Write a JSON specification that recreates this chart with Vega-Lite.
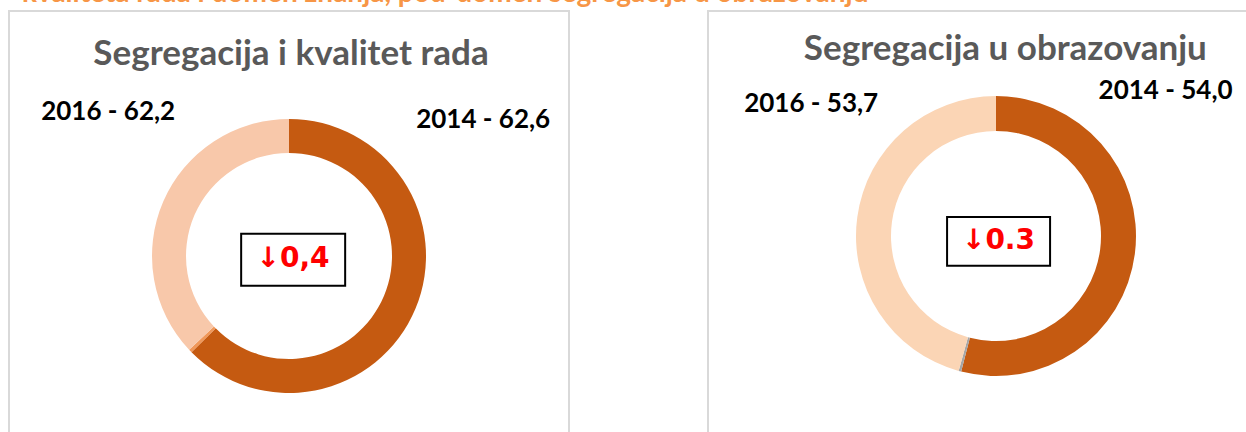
{
  "$schema": "https://vega.github.io/schema/vega-lite/v6.json",
  "padding": {"left": 8, "top": -20, "right": 0, "bottom": 0},
  "background": "white",
  "title": {
    "text": "kvaliteta rada i domen znanja, pod-domen segregacija u obrazovanju",
    "anchor": "start",
    "color": "#F79646",
    "font": "Lato",
    "fontSize": 28,
    "fontWeight": "bold",
    "dx": 14,
    "offset": 2
  },
  "datasets": {
    "arcs": [
      {"panel": "L", "part": "2014", "value": 62.6, "order": 1},
      {"panel": "L", "part": "razlika", "value": 0.4, "order": 2},
      {"panel": "L", "part": "2016", "value": 37.0, "order": 3},
      {"panel": "R", "part": "2014", "value": 54.0, "order": 1},
      {"panel": "R", "part": "razlika", "value": 0.3, "order": 2},
      {"panel": "R", "part": "2016", "value": 45.7, "order": 3}
    ],
    "labels": [
      {"id": "L_title", "text": "Segregacija i kvalitet rada"},
      {"id": "L_2014", "text": "2014 - 62,6"},
      {"id": "L_2016", "text": "2016 - 62,2"},
      {"id": "L_change", "text": "↓0,4"},
      {"id": "R_title", "text": "Segregacija u obrazovanju"},
      {"id": "R_2014", "text": "2014 - 54,0"},
      {"id": "R_2016", "text": "2016 - 53,7"},
      {"id": "R_change", "text": "↓0.3"}
    ]
  },
  "spacing": 137,
  "hconcat": [
    {
      "width": 560,
      "height": 490,
      "view": {"stroke": "#D9D9D9", "strokeWidth": 2, "fill": "white"},
      "layer": [
        {
          "data": {"name": "arcs"},
          "transform": [{"filter": "datum.panel === 'L'"}],
          "mark": {"type": "arc", "outerRadius": 137, "innerRadius": 103},
          "encoding": {
            "theta": {"field": "value", "type": "quantitative", "stack": true},
            "order": {"field": "order"},
            "color": {"field": "part", "type": "nominal", "legend": null,
              "scale": {"domain": ["2014", "razlika", "2016"], "range": ["#C55A11", "#F0985A", "#F8C8AA"]}}
          }
        },
        {
          "data": {"name": "labels"},
          "transform": [{"filter": "datum.id === 'L_title'"}],
          "mark": {"type": "text", "theta": 0.01, "radius": 202, "font": "Lato", "fontSize": 35, "fontWeight": "bold", "color": "#595959"},
          "encoding": {"text": {"field": "text"}}
        },
        {
          "data": {"name": "labels"},
          "transform": [{"filter": "datum.id === 'L_2014'"}],
          "mark": {"type": "text", "theta": 0.96, "radius": 237, "font": "Lato", "fontSize": 26, "fontWeight": "bold", "color": "#000000"},
          "encoding": {"text": {"field": "text"}}
        },
        {
          "data": {"name": "labels"},
          "transform": [{"filter": "datum.id === 'L_2016'"}],
          "mark": {"type": "text", "theta": 5.384, "radius": 231, "font": "Lato", "fontSize": 26, "fontWeight": "bold", "color": "#000000"},
          "encoding": {"text": {"field": "text"}}
        },
        {
          "data": {"name": "labels"},
          "transform": [{"filter": "datum.id === 'L_change'"}],
          "mark": {"type": "point", "shape": "M-0.92,-0.43H1.08V0.57H-0.92Z", "size": 10816, "filled": false, "stroke": "#000000", "strokeWidth": 2, "opacity": 1},
          "encoding": {}
        },
        {
          "data": {"name": "labels"},
          "transform": [{"filter": "datum.id === 'L_change'"}],
          "mark": {"type": "text", "theta": 2.29, "radius": 5.3, "font": "DejaVu Sans", "fontSize": 28, "fontWeight": "bold", "color": "#FF0000"},
          "encoding": {"text": {"field": "text"}}
        }
      ]
    },
    {
      "width": 576,
      "height": 450,
      "view": {"stroke": "#D9D9D9", "strokeWidth": 2, "fill": "white"},
      "layer": [
        {
          "data": {"name": "arcs"},
          "transform": [{"filter": "datum.panel === 'R'"}],
          "mark": {"type": "arc", "outerRadius": 140, "innerRadius": 105},
          "encoding": {
            "theta": {"field": "value", "type": "quantitative", "stack": true},
            "order": {"field": "order"},
            "color": {"field": "part", "type": "nominal", "legend": null,
              "scale": {"domain": ["2014", "razlika", "2016"], "range": ["#C55A11", "#A6A6A6", "#FBD5B5"]}}
          }
        },
        {
          "data": {"name": "labels"},
          "transform": [{"filter": "datum.id === 'R_title'"}],
          "mark": {"type": "text", "theta": 0.05, "radius": 187, "font": "Lato", "fontSize": 35, "fontWeight": "bold", "color": "#595959"},
          "encoding": {"text": {"field": "text"}}
        },
        {
          "data": {"name": "labels"},
          "transform": [{"filter": "datum.id === 'R_2014'"}],
          "mark": {"type": "text", "theta": 0.864, "radius": 223, "font": "Lato", "fontSize": 26, "fontWeight": "bold", "color": "#000000"},
          "encoding": {"text": {"field": "text"}}
        },
        {
          "data": {"name": "labels"},
          "transform": [{"filter": "datum.id === 'R_2016'"}],
          "mark": {"type": "text", "theta": 5.332, "radius": 227, "font": "Lato", "fontSize": 26, "fontWeight": "bold", "color": "#000000"},
          "encoding": {"text": {"field": "text"}}
        },
        {
          "data": {"name": "labels"},
          "transform": [{"filter": "datum.id === 'R_change'"}],
          "mark": {"type": "point", "shape": "M-0.95,-0.37H1.05V0.58H-0.95Z", "size": 10609, "filled": false, "stroke": "#000000", "strokeWidth": 2, "opacity": 1},
          "encoding": {}
        },
        {
          "data": {"name": "labels"},
          "transform": [{"filter": "datum.id === 'R_change'"}],
          "mark": {"type": "text", "theta": 2.72, "radius": 6, "font": "DejaVu Sans", "fontSize": 28, "fontWeight": "bold", "color": "#FF0000"},
          "encoding": {"text": {"field": "text"}}
        }
      ]
    }
  ],
  "resolve": {"scale": {"color": "independent", "theta": "independent"}},
  "config": {
    "view": {"stroke": "#D9D9D9", "strokeWidth": 2}
  }
}
